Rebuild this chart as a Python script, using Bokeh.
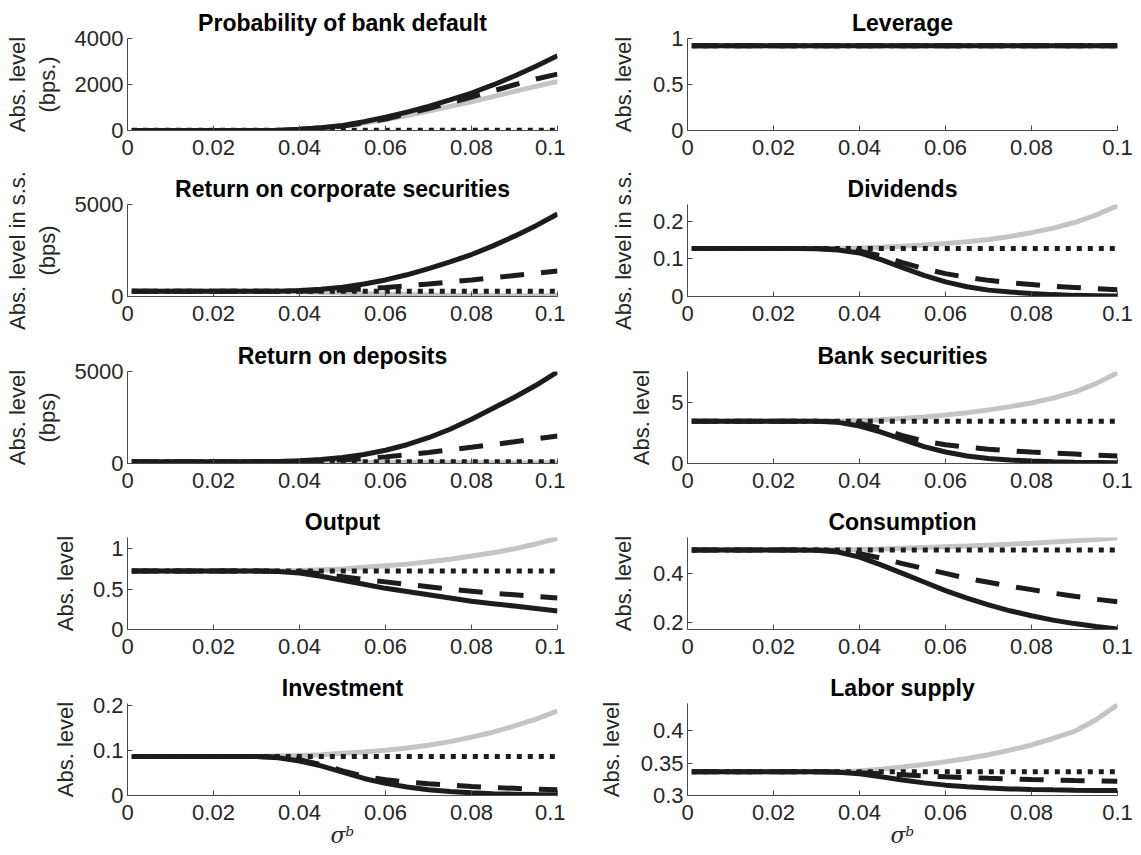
from bokeh.plotting import figure
from bokeh.layouts import column, row
from bokeh.models import FixedTicker
from bokeh.embed import file_html
from bokeh.resources import INLINE

# ---------------- data ----------------
sigma_b = [0.001, 0.01, 0.02, 0.025, 0.03, 0.035, 0.04, 0.045, 0.05, 0.055,
           0.06, 0.065, 0.07, 0.075, 0.08, 0.085, 0.09, 0.095, 0.1]

x_ticks = [0, 0.02, 0.04, 0.06, 0.08, 0.1]
x_tick_labels = ["0", "0.02", "0.04", "0.06", "0.08", "0.1"]

titles = ["Probability of bank default", "Leverage",
          "Return on corporate securities", "Dividends",
          "Return on deposits", "Bank securities",
          "Output", "Consumption",
          "Investment", "Labor supply"]

y_labels = ["Abs. level\n(bps.)", "Abs. level",
            "Abs. level in s.s.\n(bps)", "Abs. level in s.s.",
            "Abs. level\n(bps)", "Abs. level",
            "Abs. level", "Abs. level",
            "Abs. level", "Abs. level"]

y_limits = [(0, 4000), (0, 1), (0, 5000), (0, 0.245), (0, 5000),
            (0, 7.6), (0, 1.14), (0.172, 0.546), (0, 0.205), (0.3, 0.442)]
y_ticks = [[0, 2000, 4000], [0, 0.5, 1], [0, 5000], [0, 0.1, 0.2], [0, 5000],
           [0, 5], [0, 0.5, 1], [0.2, 0.4], [0, 0.1, 0.2], [0.3, 0.35, 0.4]]
y_tick_labels = [["0", "2000", "4000"], ["0", "0.5", "1"], ["0", "5000"],
                 ["0", "0.1", "0.2"], ["0", "5000"], ["0", "5"],
                 ["0", "0.5", "1"], ["0.2", "0.4"], ["0", "0.1", "0.2"],
                 ["0.3", "0.35", "0.4"]]

# Probability of bank default (bps)
pd_solid = [0, 0, 0, 0, 5, 15, 50, 120, 220, 380, 580, 800, 1050, 1330, 1630, 1980, 2370, 2790, 3250]
pd_dashed = [0, 0, 0, 0, 5, 15, 45, 110, 200, 330, 500, 720, 950, 1200, 1450, 1720, 1990, 2240, 2450]
pd_gray = [0, 0, 0, 0, 5, 15, 45, 105, 190, 320, 480, 650, 850, 1050, 1250, 1470, 1700, 1920, 2130]
pd_dotted = [15] * 19

# Leverage
lev_solid = [0.92] * 19
lev_dashed = [0.92] * 19
lev_gray = [0.92] * 19
lev_dotted = [0.92] * 19

# Return on corporate securities (bps)
rk_solid = [280, 280, 280, 280, 282, 290, 320, 390, 500, 680, 900, 1180, 1520, 1880, 2280, 2750, 3280, 3850, 4480]
rk_dashed = [280, 280, 280, 280, 281, 284, 292, 310, 350, 410, 490, 580, 680, 790, 900, 1020, 1140, 1260, 1380]
rk_gray = [280, 280, 280, 280, 279, 272, 255, 228, 195, 160, 130, 105, 85, 70, 58, 50, 44, 40, 37]
rk_dotted = [280] * 19

# Dividends
div_solid = [0.128, 0.128, 0.128, 0.128, 0.127, 0.124, 0.116, 0.098, 0.077, 0.056, 0.039, 0.026, 0.017, 0.012, 0.008, 0.005, 0.003, 0.002, 0.001]
div_dashed = [0.128, 0.128, 0.128, 0.128, 0.128, 0.126, 0.121, 0.108, 0.09, 0.074, 0.061, 0.051, 0.043, 0.037, 0.032, 0.027, 0.024, 0.021, 0.018]
div_gray = [0.128, 0.128, 0.128, 0.128, 0.128, 0.128, 0.129, 0.131, 0.134, 0.137, 0.141, 0.146, 0.152, 0.16, 0.17, 0.182, 0.197, 0.217, 0.242]
div_dotted = [0.128] * 19

# Return on deposits (bps)
rd_solid = [100, 100, 100, 100, 102, 110, 150, 220, 330, 490, 720, 1020, 1400, 1860, 2400, 3000, 3600, 4250, 4980]
rd_dashed = [100, 100, 100, 100, 100, 104, 120, 150, 200, 270, 360, 470, 600, 740, 880, 1030, 1180, 1340, 1500]
rd_gray = [100, 100, 100, 100, 100, 98, 92, 85, 76, 68, 60, 53, 47, 42, 38, 35, 32, 30, 28]
rd_dotted = [100] * 19

# Bank securities
bs_solid = [3.5, 3.5, 3.5, 3.5, 3.48, 3.4, 3.1, 2.6, 2.0, 1.4, 0.95, 0.62, 0.42, 0.29, 0.2, 0.15, 0.11, 0.09, 0.07]
bs_dashed = [3.5, 3.5, 3.5, 3.5, 3.5, 3.45, 3.3, 2.9, 2.3, 1.85, 1.55, 1.35, 1.18, 1.05, 0.95, 0.86, 0.78, 0.7, 0.62]
bs_gray = [3.5, 3.5, 3.5, 3.5, 3.5, 3.5, 3.55, 3.62, 3.72, 3.85, 4.0, 4.2, 4.43, 4.7, 5.0, 5.4, 5.9, 6.6, 7.5]
bs_dotted = [3.5] * 19

# Output
y_solid = [0.725, 0.725, 0.725, 0.725, 0.724, 0.72, 0.70, 0.66, 0.61, 0.56, 0.51, 0.47, 0.43, 0.39, 0.35, 0.32, 0.29, 0.26, 0.23]
y_dashed = [0.725, 0.725, 0.725, 0.725, 0.725, 0.723, 0.715, 0.69, 0.655, 0.62, 0.59, 0.56, 0.53, 0.5, 0.475, 0.45, 0.43, 0.41, 0.39]
y_gray = [0.725, 0.725, 0.725, 0.725, 0.725, 0.726, 0.73, 0.74, 0.75, 0.77, 0.79, 0.81, 0.84, 0.87, 0.91, 0.95, 1.0, 1.06, 1.13]
y_dotted = [0.725] * 19

# Consumption
c_solid = [0.495, 0.495, 0.495, 0.495, 0.494, 0.487, 0.466, 0.435, 0.4, 0.365, 0.33, 0.3, 0.272, 0.248, 0.228, 0.21, 0.196, 0.184, 0.174]
c_dashed = [0.495, 0.495, 0.495, 0.495, 0.495, 0.491, 0.48, 0.462, 0.44, 0.42, 0.4, 0.38, 0.364, 0.348, 0.334, 0.32, 0.307, 0.295, 0.285]
c_gray = [0.495, 0.495, 0.495, 0.495, 0.495, 0.496, 0.497, 0.499, 0.502, 0.505, 0.508, 0.511, 0.515, 0.519, 0.523, 0.528, 0.533, 0.538, 0.545]
c_dotted = [0.495] * 19

# Investment
i_solid = [0.087, 0.087, 0.087, 0.087, 0.087, 0.084, 0.077, 0.066, 0.052, 0.038, 0.027, 0.019, 0.013, 0.009, 0.006, 0.004, 0.003, 0.002, 0.0015]
i_dashed = [0.087, 0.087, 0.087, 0.087, 0.087, 0.086, 0.08, 0.069, 0.055, 0.043, 0.035, 0.03, 0.026, 0.023, 0.02, 0.018, 0.016, 0.014, 0.013]
i_gray = [0.087, 0.087, 0.087, 0.087, 0.087, 0.088, 0.089, 0.091, 0.094, 0.097, 0.101, 0.106, 0.112, 0.12, 0.13, 0.141, 0.155, 0.17, 0.188]
i_dotted = [0.087] * 19

# Labor supply
l_solid = [0.3365, 0.3365, 0.3365, 0.3365, 0.3365, 0.336, 0.3335, 0.329, 0.324, 0.3195, 0.316, 0.3135, 0.3115, 0.3102, 0.3093, 0.3087, 0.3082, 0.3079, 0.3076]
l_dashed = [0.3365, 0.3365, 0.3365, 0.3365, 0.3365, 0.3363, 0.335, 0.3335, 0.332, 0.3302, 0.3288, 0.3277, 0.3265, 0.3255, 0.3246, 0.3238, 0.3231, 0.3225, 0.322]
l_gray = [0.3365, 0.3365, 0.3365, 0.3365, 0.3365, 0.337, 0.338, 0.3405, 0.344, 0.348, 0.352, 0.357, 0.363, 0.37, 0.378, 0.388, 0.399, 0.417, 0.44]
l_dotted = [0.3365] * 19

panel_series = [
    (pd_solid, pd_dashed, pd_gray, pd_dotted),
    (lev_solid, lev_dashed, lev_gray, lev_dotted),
    (rk_solid, rk_dashed, rk_gray, rk_dotted),
    (div_solid, div_dashed, div_gray, div_dotted),
    (rd_solid, rd_dashed, rd_gray, rd_dotted),
    (bs_solid, bs_dashed, bs_gray, bs_dotted),
    (y_solid, y_dashed, y_gray, y_dotted),
    (c_solid, c_dashed, c_gray, c_dotted),
    (i_solid, i_dashed, i_gray, i_dotted),
    (l_solid, l_dashed, l_gray, l_dotted),
]

# ---------------- styling ----------------
FONT = "Liberation Sans"
BLACK = "#1c1c1c"
GRAY = "#c4c4c4"
AXIS = "#4a4a4a"
TXT = "#262626"
LW = 5
FS = "22px"

col_widths = [565, 576]
col_left = [127, 122]
col_right = [8, 24]
row_heights = [166, 167, 166, 166, 190]
FRAME_TOP = 38
FRAME_H = 92


def make_panel(k):
    r, c = divmod(k, 2)
    w, h = col_widths[c], row_heights[r]
    p = figure(width=w, height=h, x_range=(0, 0.1), y_range=y_limits[k],
               output_backend="svg", toolbar_location=None,
               min_border_left=col_left[c], min_border_right=col_right[c],
               min_border_top=FRAME_TOP, min_border_bottom=h - FRAME_TOP - FRAME_H,
               title=titles[k])
    p.title.align = "center"
    p.title.text_font = FONT
    p.title.text_font_size = "23px"
    p.title.text_font_style = "bold"
    p.title.text_color = "#000000"
    p.title.standoff = 6
    p.outline_line_color = None
    p.xgrid.visible = False
    p.ygrid.visible = False
    p.background_fill_color = "white"
    p.border_fill_color = "white"

    for ax in (p.xaxis[0], p.yaxis[0]):
        ax.axis_line_color = AXIS
        ax.axis_line_width = 1
        ax.major_tick_line_color = AXIS
        ax.major_tick_in = 5
        ax.major_tick_out = 0
        ax.minor_tick_line_color = None
        ax.major_label_text_font = FONT
        ax.major_label_text_font_size = FS
        ax.major_label_text_color = TXT
        ax.axis_label_text_font = FONT
        ax.axis_label_text_font_size = FS
        ax.axis_label_text_color = TXT
        ax.axis_label_text_font_style = "normal"

    p.xaxis.ticker = FixedTicker(ticks=x_ticks)
    p.xaxis.major_label_overrides = dict(zip(x_ticks, x_tick_labels))
    p.xaxis.major_label_standoff = 9
    p.yaxis.ticker = FixedTicker(ticks=y_ticks[k])
    p.yaxis.major_label_overrides = dict(zip(y_ticks[k], y_tick_labels[k]))
    p.yaxis.major_label_standoff = 4
    p.yaxis.axis_label = y_labels[k]
    p.yaxis.axis_label_standoff = 12 if c == 0 else 14

    if r == 4:
        p.xaxis.axis_label = "σᵇ"
        p.xaxis.axis_label_text_font = "DejaVu Serif"
        p.xaxis.axis_label_text_font_style = "italic"
        p.xaxis.axis_label_text_font_size = "22px"
        p.xaxis.axis_label_standoff = 0

    solid, dashed, gray, dotted = panel_series[k]
    p.line(sigma_b, gray, color=GRAY, line_width=LW)
    p.line(sigma_b, solid, color=BLACK, line_width=LW)
    p.line(sigma_b, dashed, color=BLACK, line_width=LW, line_dash="24 17")
    p.line(sigma_b, dotted, color=BLACK, line_width=LW, line_dash="5 6")
    return p


figs = [make_panel(k) for k in range(10)]
layout = column(*[row(figs[2 * r], figs[2 * r + 1]) for r in range(5)])

open("out.html", "w").write(file_html(layout, INLINE))
